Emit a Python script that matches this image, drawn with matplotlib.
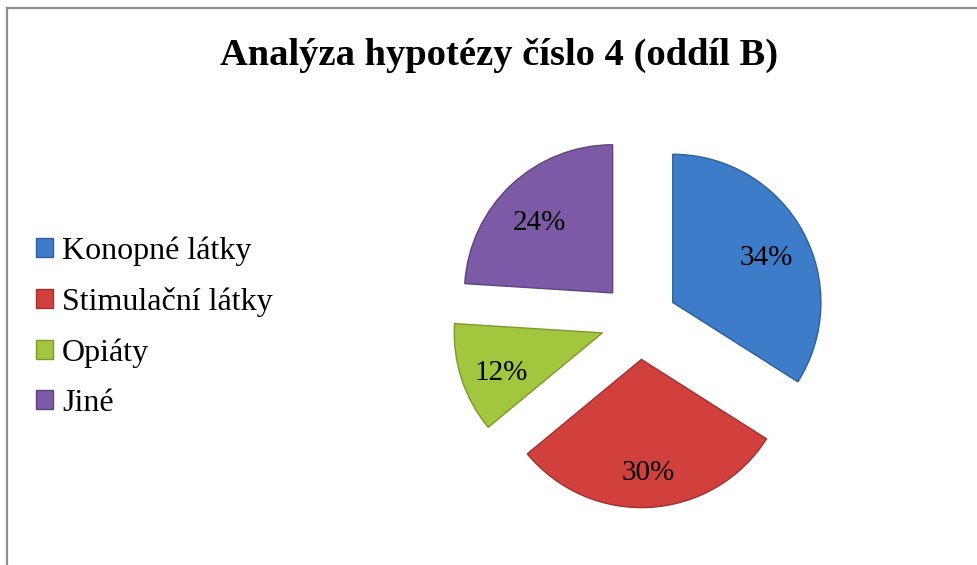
import matplotlib
matplotlib.use("Agg")
import matplotlib.pyplot as plt
from matplotlib.lines import Line2D

categories = ["Konopné látky", "Stimulační látky", "Opiáty", "Jiné"]
values = [34, 30, 12, 24]
colors = ["#3D7CC9", "#D2403D", "#A2C63E", "#7D5AA5"]
edge_colors = ["#2E5F9C", "#A0302E", "#7C9A2C", "#5E4380"]
title = "Analýza hypotézy číslo 4 (oddíl B)"

plt.rcParams['font.family'] = ['Liberation Serif', 'DejaVu Serif']

W, H = 977, 565
fig = plt.figure(figsize=(W / 100, H / 100), dpi=100)
fig.patch.set_facecolor("white")

# border (top and left visible)
fig.add_artist(Line2D([7 / W, 7 / W], [0, 1 - 8 / H], color="#8E8E8E", lw=1.6,
                      transform=fig.transFigure))
fig.add_artist(Line2D([7 / W, 1], [1 - 8 / H, 1 - 8 / H], color="#8E8E8E", lw=1.6,
                      transform=fig.transFigure))

fig.text(499 / W, 1 - 55 / H, title, ha="center", va="center",
         fontsize=27.7, fontweight="bold")

cx, cy, half = 639, 321, 200
ax = fig.add_axes([(cx - half) / W, 1 - (cy + half) / H, 2 * half / W, 2 * half / H])
wedges, texts, autotexts = ax.pie(
    values, colors=colors, startangle=90, counterclock=False,
    explode=[0.26] * len(values), autopct="%1.0f%%", pctdistance=0.72,
    radius=1.0, wedgeprops=dict(linewidth=1.0),
    textprops=dict(fontsize=21, color="black"))
for w, ec in zip(wedges, edge_colors):
    w.set_edgecolor(ec)
for t in autotexts:
    x, y = t.get_position()
    t.set_position((x, y - 0.05))
ax.set_xlim(-1.35, 1.35)
ax.set_ylim(-1.35, 1.35)
ax.set_aspect("equal")
ax.axis("off")

leg = fig.legend(wedges, categories, loc="center left",
                 bbox_to_anchor=(36 / W, 1 - 327 / H), frameon=False,
                 fontsize=23, handlelength=0.53, handleheight=0.53,
                 handletextpad=0.28, labelspacing=0.66, borderpad=0,
                 borderaxespad=0)

fig.savefig("out.png", dpi=100)
